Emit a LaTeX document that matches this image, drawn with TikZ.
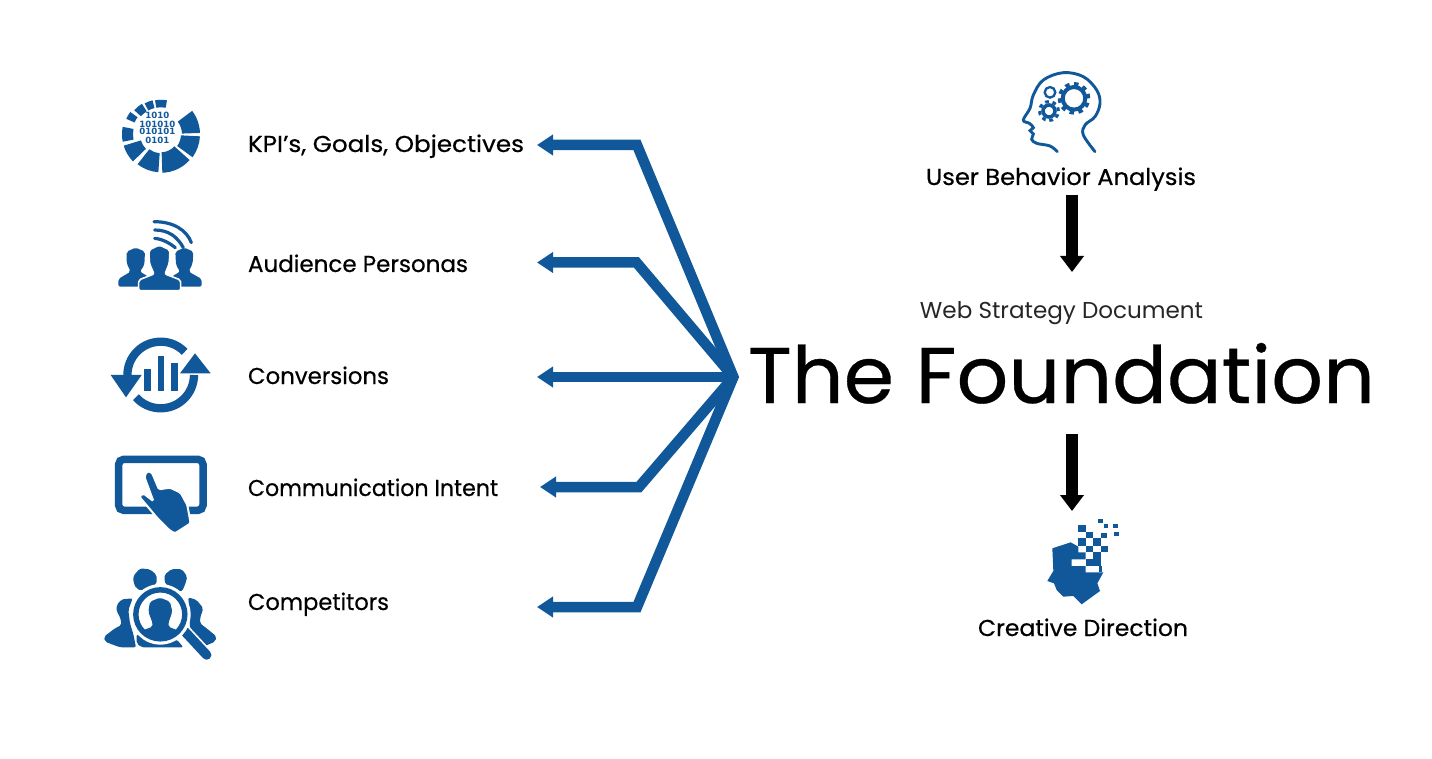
\documentclass[tikz,border=0pt]{standalone}
\usepackage{fontspec}
\usepackage{graphicx}
\usetikzlibrary{arrows.meta}
\setmainfont{Poppins}
\newfontfamily\digitfont{DejaVu Sans Bold}
\definecolor{brand}{HTML}{10589A}
\newcommand\fitw[2]{\resizebox{#1}{\height}{#2}}
\newcommand\sector[4]{\fill[brand] (#1:#3) arc[start angle=#1,end angle=#2,radius=#3] -- (#2:#4) arc[start angle=#2,end angle=#1,radius=#4] -- cycle;}
\tikzset{
  every node/.style={inner sep=0pt,outer sep=0pt},
  lab/.style={anchor=base west,font=\fontsize{23}{23}\selectfont\addfontfeatures{FakeBold=0.5},text=black},
  labc/.style={anchor=base,font=\fontsize{23}{23}\selectfont\addfontfeatures{FakeBold=0.5},text=black},
  conn/.style={draw=brand,line width=10.5pt,line join=miter,miter limit=20},
  bluetip/.style={-{Triangle[width=20pt,length=16pt]}},
  bothtip/.style={{Triangle[width=20pt,length=16pt]}-{Triangle[width=20pt,length=16pt]}},
  blackarrow/.style={draw=black,line width=12pt,-{Triangle[width=23pt,length=16pt]}},
  zoomA/.style={shift={(90,-80)},x=0.33333pt,y=-0.33333pt},
  zoomB/.style={shift={(90,-320)},x=0.33333pt,y=-0.33333pt},
  zoomC/.style={shift={(1000,-60)},x=0.33333pt,y=-0.33333pt},
  zoomD/.style={shift={(1040,-515)},x=0.33333pt,y=-0.33333pt},
  zoomE/.style={shift={(100,-560)},x=0.33333pt,y=-0.33333pt},
  bits/.style={font=\digitfont\fontsize{8.6}{8.6}\selectfont,text=brand}
}
\begin{document}
\begin{tikzpicture}[x=1pt,y=1pt]
\useasboundingbox (0,0) rectangle (1432,-759);
\fill[white] (0,0) rectangle (1432,-759);

% ---- icon 1: data ring
\begin{scope}[shift={(161,-134.3)}]
\sector{100}{80}{27}{34.5}
\sector{118}{104}{27}{35}
\sector{138}{122}{27}{36}
\sector{156}{144}{29}{38}
\sector{191}{169}{28}{39}
\sector{224}{197}{21}{39}
\sector{266}{232}{19}{38}
\sector{318}{272}{18}{38.5}
\sector{357}{324}{20}{39}
\sector{37}{2}{21}{39}
\end{scope}
\node[bits] (b1) at (157.3,-115.7) {1010};
\node[bits] (b2) at (157.3,-124) {101010};
\node[bits] (b3) at (157.3,-131.7) {010101};
\node[bits] (b4) at (157.3,-140) {0101};

% ---- icon 2: audience
\begin{scope}[zoomA]
\fill[brand,rounded corners=2pt] (137,503) -- (165,515) -- (163,555) -- (150,575) -- (175,590) -- (175,620) -- (85,620) -- (85,597) -- (122,575) -- (110,550) -- (110,515) -- cycle;
\fill[brand,rounded corners=2pt] (283,503) -- (310,515) -- (308,550) -- (296,575) -- (335,597) -- (335,620) -- (245,620) -- (245,590) -- (270,575) -- (258,555) -- (256,515) -- cycle;
\draw[white,line width=1.6pt,fill=brand,rounded corners=2pt] (208,495) -- (240,510) -- (238,550) -- (225,582) -- (272,600) -- (272,632) -- (146,632) -- (146,600) -- (192,582) -- (178,550) -- (177,510) -- cycle;
\draw[brand,line width=3.2pt,line cap=round] (192,425) .. controls (250,425) and (290,450) .. (304,488);
\draw[brand,line width=3.2pt,line cap=round] (194,450) .. controls (235,450) and (262,470) .. (280,503);
\draw[brand,line width=3.2pt,line cap=round] (194,475) .. controls (220,478) and (240,490) .. (256,503);
\end{scope}

% ---- icon 3: conversions
\begin{scope}[shift={(160.7,-375)}]
\draw[brand,line width=8.3pt] (44:33.3) arc[start angle=44,end angle=180,radius=33.3];
\draw[brand,line width=8.3pt] (222:33.3) arc[start angle=222,end angle=360,radius=33.3];
\end{scope}
\begin{scope}[zoomB]
\fill[brand] (62,165) -- (155,165) -- (108,232) -- cycle;
\fill[brand] (270,160) -- (362,160) -- (315,100) -- cycle;
\fill[brand] (163,147) rectangle (183,212);
\fill[brand] (203,108) rectangle (222,212);
\fill[brand] (243,128) rectangle (263,212);

% ---- icon 4: tablet
\draw[brand,line width=7.5pt,rounded corners=5pt] (86,418) rectangle (339,571);
\draw[white,line width=2pt,fill=brand,rounded corners=1.5pt] (172,453) -- (186,458) -- (207,508) -- (240,503) -- (272,518) -- (292,555) -- (302,610) -- (255,640) -- (240,632) -- (200,592) -- (148,530) -- (160,520) -- (190,543) -- (163,470) -- cycle;
\end{scope}

% ---- icon 5: competitors
\begin{scope}[zoomE]
\fill[brand,rounded corners=2pt] (100,48) -- (120,25) -- (150,28) -- (170,45) -- (170,72) -- (125,92) -- (108,85) -- (100,65) -- cycle;
\fill[brand,rounded corners=2pt] (193,45) -- (215,27) -- (245,27) -- (262,50) -- (255,75) -- (245,95) -- (195,72) -- cycle;
\fill[brand,rounded corners=2pt] (50,135) -- (65,118) -- (98,115) -- (85,150) -- (90,190) -- (100,222) -- (108,262) -- (60,262) -- (15,245) -- (12,230) -- (45,205) -- (65,195) -- (60,170) -- (50,155) -- cycle;
\fill[brand,rounded corners=2pt] (265,112) -- (290,120) -- (310,145) -- (300,175) -- (300,190) -- (320,205) -- (350,230) -- (345,245) -- (315,258) -- (270,205) -- cycle;
\fill[brand,rounded corners=2pt] (110,222) -- (140,242) -- (180,250) -- (230,238) -- (250,262) -- (125,262) -- (110,250) -- cycle;
\draw[white,line width=13pt] (250,210) -- (320,285);
\draw[brand,line width=9.5pt,line cap=round] (255,215) -- (320,285);
\fill[white] (181,163) circle[radius=30.3pt];
\draw[brand,line width=5.4pt,fill=white] (181,163) circle[radius=24.5pt];
\fill[brand,rounded corners=2pt] (180,113) -- (210,125) -- (217,155) -- (205,190) -- (205,200) -- (235,212) -- (215,228) -- (180,233) -- (145,228) -- (125,212) -- (158,200) -- (158,190) -- (145,155) -- (150,125) -- cycle;
\end{scope}

% ---- icon: head with gears
\begin{scope}[zoomC]
\draw[brand,line width=2.9pt,line cap=round] plot[smooth,tension=.6] coordinates {(172,275) (150,258) (110,250) (95,238) (100,222) (90,212) (100,203) (88,190) (70,180) (90,145) (100,105) (130,60) (190,38) (250,50) (290,90) (300,130) (285,170) (255,195) (250,225) (285,275)};
\draw[brand,line width=4pt] (222,115) circle[radius=11.3pt];
\draw[brand,line width=3.5pt,dash pattern=on 4.5pt off 4.6pt] (222,115) circle[radius=14.5pt];
\draw[brand,line width=3.6pt] (147,153) circle[radius=6pt];
\draw[brand,line width=3pt,dash pattern=on 3.7pt off 3.76pt] (147,153) circle[radius=9.5pt];
\draw[brand,line width=2.3pt] (150,97) circle[radius=5.3pt];
\end{scope}

% ---- icon: digital head
\begin{scope}[zoomD]
\fill[brand] (37,100) -- (92,82) -- (115,95) -- (115,112) -- (137,112) -- (137,133) -- (95,133) -- (95,153) -- (137,153) -- (137,172) -- (190,172) -- (172,205) -- (180,228) -- (125,268) -- (100,243) -- (70,245) -- (50,225) -- (42,205) -- (22,198) -- (40,168) -- cycle;
\fill[brand] (137,133) rectangle (183,153);
\fill[brand] (178,153) rectangle (186,172);
\foreach \xa/\ya/\xb/\yb in {115/30/138/50,138/50/160/70,183/55/200/70,115/70/138/92,160/70/183/92,138/92/160/112,183/92/205/112,160/112/183/133,175/12/190/25,192/27/205/38,218/27/233/38,222/52/237/64}
  \fill[brand] (\xa,\ya) rectangle (\xb,\yb);
\end{scope}

% ---- labels
\node[lab] (kpi) at (248,-152) {\fitw{276pt}{KPI’s, Goals, Objectives}};
\node[lab] (aud) at (248,-272) {\fitw{220pt}{Audience Personas}};
\node[lab] (cnv) at (248,-384) {\fitw{141pt}{Conversions}};
\node[lab] (com) at (248,-496) {\fitw{250pt}{Communication Intent}};
\node[lab] (cpt) at (248,-610) {\fitw{141pt}{Competitors}};
\node[labc] (user) at (1061,-185) {\fitw{270pt}{User Behavior Analysis}};
\node[labc] (crea) at (1083,-636) {\fitw{210pt}{Creative Direction}};
\node[anchor=base,font=\fontsize{23}{23}\selectfont,text=black!85] (web) at (1061.5,-319) {\fitw{283pt}{Web Strategy Document}};
\node[anchor=base,font=\fontsize{79}{79}\selectfont\addfontfeatures{FakeBold=0.4},text=black] (found) at (1061.5,-403) {\fitw{627pt}{The Foundation}};

% ---- connectors
\coordinate (hub) at (733.4,-377);
\coordinate (t1) at (537,-145);
\coordinate (t2) at (537,-262.5);
\coordinate (t3) at (537,-377);
\coordinate (t4) at (540,-487);
\coordinate (t5) at (537,-607);
\coordinate (b1c) at (637,-145);
\coordinate (b2c) at (636.5,-262.5);
\coordinate (b4c) at (639,-487);
\coordinate (b5c) at (637,-607);
\draw[conn,bothtip] (t1) -- (b1c) -- (hub) -- (b5c) -- (t5);
\draw[conn,bluetip] (hub) -- (b2c) -- (t2);
\draw[conn,bluetip] (hub) -- (t3);
\draw[conn,bluetip] (hub) -- (b4c) -- (t4);

\coordinate (a1s) at (1072,-195);
\coordinate (a1e) at (1072,-272);
\coordinate (a2s) at (1072,-434);
\coordinate (a2e) at (1072,-511);
\draw[blackarrow] (a1s) -- (a1e);
\draw[blackarrow] (a2s) -- (a2e);
\end{tikzpicture}
\end{document}
